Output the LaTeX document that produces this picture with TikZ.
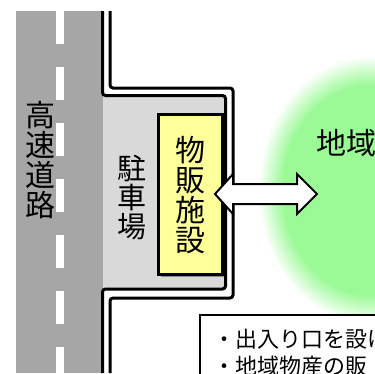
\documentclass[tikz,border=0pt]{standalone}
\usepackage{fontspec}
\newfontfamily\jp{Noto Sans CJK JP}
\definecolor{roadgray}{HTML}{A6A6A6}
\definecolor{lotgray}{HTML}{D9D9D9}
\definecolor{boxyellow}{HTML}{FFFF99}
\definecolor{lgreen}{RGB}{155,250,150}
\pgfdeclareradialshading{blob}{\pgfpoint{0bp}{0bp}}{color(0bp)=(lgreen); color(19.5bp)=(lgreen); color(25bp)=(white); color(50bp)=(white)}
\tikzset{
  dline/.style={line width=3pt, rounded corners=3pt},
  vtext/.style={font=\jp\fontsize{#1}{#1}\selectfont, align=center, inner sep=0pt},
  blockarrow/.style={fill=white, draw=black, line width=2pt, line join=miter},
  bulletline/.style={font=\jp\fontsize{22}{26}\selectfont, anchor=west, inner sep=0pt}
}
\begin{document}
\begin{tikzpicture}[x=1pt,y=-1pt]
\useasboundingbox[fill=white] (0,0) rectangle (375,373);
% green area
\path[shading=blob] (258,56) rectangle (482,324);
% road
\fill[roadgray] (16,11) rectangle (103,373);
\foreach \k in {0,...,6} {
  \fill[white] (56,{11+56*\k}) rectangle (64,{min(44+56*\k,373)});
}
% parking lot
\fill[lotgray] (103,96) rectangle (225.5,289);
% site boundary double line
\draw[dline] (102.5,11) -- (102.5,95.5) -- (225.5,95.5) -- (225.5,289) -- (102.5,289) -- (102.5,373);
\draw[dline] (110,11) -- (110,88) -- (233,88) -- (233,298) -- (110,298) -- (110,373);
% shop box
\fill[black!45] (160.5,116.5) rectangle (224,276.5);
\draw[fill=boxyellow, line width=3pt] (158.5,114.5) rectangle (222,274.5);
% labels
\node[vtext={30}] (road) at (40,160) {\fontsize{30}{32.5}\selectfont 高\\速\\道\\路};
\node[vtext={29}] (park) at (132,197.5) {\fontsize{29}{31.5}\selectfont 駐\\車\\場};
\node[vtext={30}] (shop) at (190.5,195) {\fontsize{30}{33}\selectfont 物\\販\\施\\設};
\node[font=\jp\fontsize{30}{30}\selectfont, anchor=west, inner sep=0pt] (area) at (316,143) {地域};
% double arrow
\draw[blockarrow] (215,194) -- (233,174) -- (233,184) -- (297,184) -- (297,174) -- (317,194) -- (297,214) -- (297,204) -- (233,204) -- (233,214) -- cycle;
% note box
\draw[fill=white, line width=1.5pt] (200,315) rectangle (390,390);
\node[bulletline] (l1) at (213,339) {・出入り口を設け};
\node[bulletline] (l2) at (213,366) {・地域物産の販};
\end{tikzpicture}
\end{document}
